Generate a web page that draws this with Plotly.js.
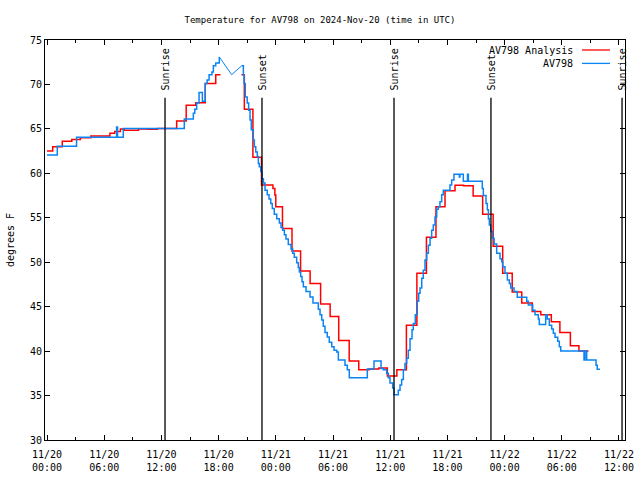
<!DOCTYPE html>
<html>
<head>
<meta charset="utf-8">
<script src="https://cdn.plot.ly/plotly-3.0.1.min.js"></script>
<style>html,body{margin:0;padding:0;background:#fff;}#chart{width:640px;height:480px;}</style>
</head>
<body>
<div id="chart"></div>
<script>
// Hours since 2024-11-20 00:00 UTC
const analysisHours = [0, 0.6, 1.6, 2.6, 3.5, 4.6, 6.6, 7.1, 7.7, 8.1, 9.6, 10.6, 11.6, 13.6, 14.6, 15.6, 16.6, 17.7, 18.2, 18.3,
  20.4, 20.7, 21.6, 22.5, 23.7, 23.9, 24.0, 24.7, 25.7, 26.6, 27.6, 28.7, 29.7, 30.6, 31.7, 32.7, 33.8, 34.8, 35.7, 36.7,
  37.7, 38.8, 39.8, 40.8, 41.75, 42.8, 43.7, 44.7, 45.7, 46.8, 47.8, 48.8, 49.8, 50.9, 51.8, 52.9, 53.8, 54.9, 55.8, 56.8];
const analysisTemps = [62.5, 63.0, 63.6, 63.8, 64.0, 64.2, 64.5, 64.7, 65.0, 64.85, 65.0, 64.95, 65.05, 65.9, 67.65, 67.95, 70.1, 71.1, 71.1, null,
  71.1, 67.2, 61.8, 58.7, 58.3, 57.55, 56.25, 53.8, 51.25, 49.0, 47.6, 45.3, 43.9, 41.2, 38.9, 37.9, 38.0, 38.1, 37.2, 37.9,
  42.9, 48.75, 52.8, 56.25, 58.05, 58.65, 58.6, 57.45, 55.4, 51.8, 48.75, 46.65, 45.4, 44.45, 44.1, 43.3, 42.1, 40.6, 40.0, 40.0];

const obsHours = [0, 1.08, 3.1, 7.3, 7.4, 8.0, 14.4, 15.35, 15.5, 15.7, 15.95, 16.3, 16.6, 16.8, 17.0, 17.3, 17.45, 17.7, 18.07,
  19.37, 20.42,
  20.6, 20.67, 20.8, 21.0, 21.15, 21.3, 21.43, 21.64, 21.75, 21.9, 22.06, 22.17, 22.27, 22.42, 22.55, 22.7, 22.87, 23.1, 23.29,
  23.47, 23.63, 23.84, 24.1, 24.37, 24.55, 24.72, 24.9, 25.07, 25.31, 25.6, 25.77, 25.94, 26.19, 26.36, 26.47, 26.61, 26.75,
  26.89, 27.17, 27.59, 27.9, 28.46, 28.64, 28.82, 28.98, 29.16, 29.4, 29.61, 29.87, 30.11, 30.39, 30.56, 31.26, 31.5, 31.71,
  33.6, 34.3, 35.04, 35.28, 35.63, 35.8, 35.98, 36.26, 36.4, 36.85, 37.03, 37.2, 37.38, 37.55, 37.73, 37.9, 38.08, 38.29,
  38.42, 38.63, 38.84, 38.99, 39.13, 39.31, 39.47, 39.65, 39.83, 40.0, 40.18, 40.35, 40.52, 40.7, 40.88, 41.05, 41.22, 41.4,
  41.57, 42.27, 42.45, 42.69, 43.25, 43.32, 43.67, 44.11, 44.2, 45.66, 45.77, 46.05, 46.19, 46.3, 46.4, 46.55, 46.72, 46.9,
  47.17, 47.52, 47.7, 47.8, 48.04, 48.29, 48.5, 48.64, 48.99, 49.33, 50.32, 50.49, 50.95, 51.19, 51.54, 51.64, 52.31, 52.48,
  52.69, 52.94, 53.11, 53.29, 53.57, 53.74, 53.89, 56.33, 56.44, 56.61, 57.59, 57.72, 58.0];
const obsTemps = [62.05, 63.05, 64.05, 65.2, 64.05, 65.05, 66.1, 66.75, 67.2, 67.9, 69.1, 68.1, 70.1, 70.5, 71.1, 71.4, 72.1, 72.4, 73.1,
  71.1, 72.1,
  71.1, 70.1, 68.6, 67.9, 67.1, 66.0, 64.9, 63.75, 63.0, 62.4, 61.9, 61.1, 60.75, 60.2, 59.4, 58.9, 58.1, 57.6, 57.1,
  56.6, 56.05, 55.4, 54.9, 54.4, 53.9, 53.6, 53.1, 52.6, 52.0, 51.5, 51.0, 50.55, 49.95, 49.4, 48.9, 48.4, 47.8,
  47.25, 46.7, 46.1, 45.4, 44.7, 44.1, 43.5, 42.8, 42.1, 41.6, 41.0, 40.5, 40.1, 39.9, 39.0, 38.4, 37.9, 37.0,
  38.0, 38.9, 38.05, 37.9, 37.5, 37.0, 36.4, 35.85, 35.1, 35.6, 36.2, 36.8, 37.9, 38.6, 39.2, 40.1, 41.4, 42.4,
  43.1, 44.1, 45.6, 46.5, 47.1, 48.2, 49.1, 50.25, 51.0, 51.9, 52.7, 53.6, 54.2, 55.1, 55.95, 56.25, 56.8, 57.6,
  58.1, 58.7, 59.25, 59.9, 59.6, 59.9, 59.1, 59.9, 59.1, 58.3, 57.5, 56.6, 55.9, 54.9, 54.2, 53.45, 52.7, 52.05,
  51.0, 50.4, 50.05, 49.5, 48.75, 48.0, 47.6, 47.1, 46.7, 46.05, 45.6, 45.2, 44.6, 44.1, 43.6, 43.0, 44.1, 43.6,
  42.9, 42.5, 42.0, 41.55, 41.1, 40.5, 40.0, 39.0, 40.0, 39.0, 38.4, 37.95, 37.95];
// data gap in observations (drawn as straight segments)
const obsGapStart = 18.07, obsGapEnd = 20.42;

const sunHours = [12.38, 22.55, 36.4, 46.57, 60.32];
const sunLabels = ['Sunrise', 'Sunset', 'Sunrise', 'Sunset', 'Sunrise'];

const base = Date.UTC(2024, 10, 20);
function pad(n){ return (n < 10 ? '0' : '') + n; }
function toDate(h){
  const d = new Date(base + Math.round(h * 3600000));
  return d.getUTCFullYear() + '-' + pad(d.getUTCMonth()+1) + '-' + pad(d.getUTCDate()) + ' ' +
         pad(d.getUTCHours()) + ':' + pad(d.getUTCMinutes()) + ':' + pad(d.getUTCSeconds());
}

const FONT = 'DejaVu Sans Mono, monospace';
const RED = '#ff0000', BLUE = '#0a84f5';

const iS = obsHours.indexOf(obsGapStart), iE = obsHours.indexOf(obsGapEnd);
function seg(a, b){ return {x: obsHours.slice(a, b).map(toDate), y: obsTemps.slice(a, b)}; }
const s1 = seg(0, iS + 1), s2 = seg(iS, iE + 1), s3 = seg(iE, obsHours.length);

const traces = [
  {x: analysisHours.map(toDate), y: analysisTemps, type: 'scatter', mode: 'lines', line: {color: RED, width: 1.5, shape: 'hv'}, connectgaps: false, hoverinfo: 'skip'},
  {x: s1.x, y: s1.y, type: 'scatter', mode: 'lines', line: {color: BLUE, width: 1.5, shape: 'hv'}, hoverinfo: 'skip'},
  {x: s2.x, y: s2.y, type: 'scatter', mode: 'lines', line: {color: BLUE, width: 1, shape: 'linear'}, hoverinfo: 'skip'},
  {x: s3.x, y: s3.y, type: 'scatter', mode: 'lines', line: {color: BLUE, width: 1.5, shape: 'hv'}, hoverinfo: 'skip'}
];

const shapes = sunHours.map(h => ({type: 'line', xref: 'x', yref: 'y', x0: toDate(h), x1: toDate(h), y0: 30, y1: 68.5, line: {color: '#000', width: 1.3}}));
const annotations = sunHours.map((h, i) => ({x: toDate(h), y: 69.1, xref: 'x', yref: 'y', text: sunLabels[i], textangle: -90, showarrow: false, xanchor: 'center', yanchor: 'bottom', font: {family: FONT, size: 10, color: '#000'}}));

// legend (text left of sample, as in the reference)
const legendNames = ['AV798 Analysis', 'AV798'];
const legendColors = [RED, BLUE];
legendNames.forEach((n, i) => {
  const yp = 0.975 - i * 0.0335;
  annotations.push({x: 0.9138, y: yp, xref: 'paper', yref: 'paper', text: n, showarrow: false, xanchor: 'right', yanchor: 'middle', font: {family: FONT, size: 10, color: '#000'}});
  shapes.push({type: 'line', xref: 'paper', yref: 'paper', x0: 0.9259, x1: 0.9741, y0: yp, y1: yp, line: {color: legendColors[i], width: 1.3}});
});

const layout = {
  width: 640, height: 480,
  margin: {l: 45, r: 15, t: 40, b: 40},
  paper_bgcolor: '#fff', plot_bgcolor: '#fff',
  showlegend: false,
  font: {family: FONT, size: 10, color: '#000'},
  title: {text: 'Temperature for AV798 on 2024-Nov-20 (time in UTC)', x: 0.5, xanchor: 'center', y: 1 - 20/480, yanchor: 'middle', yref: 'container', font: {family: FONT, size: 9, color: '#000'}},
  xaxis: {
    type: 'date', range: [toDate(-0.21), toDate(60.63)],
    tickmode: 'linear', tick0: toDate(0), dtick: 6 * 3600000,
    tickformat: '%m/%d<br>%H:%M',
    ticks: 'inside', ticklen: 5, tickcolor: '#000', tickwidth: 1,
    ticklabelstandoff: 5,
    minor: {dtick: 3 * 3600000, ticks: 'inside', ticklen: 3, tickcolor: '#000', showgrid: false},
    showline: true, linecolor: '#000', linewidth: 1, mirror: 'ticks',
    showgrid: false, zeroline: false,
    tickfont: {family: FONT, size: 10, color: '#000'}
  },
  yaxis: {
    range: [30, 75], tickmode: 'linear', tick0: 30, dtick: 5,
    ticks: 'inside', ticklen: 5, tickcolor: '#000',
    showline: true, linecolor: '#000', linewidth: 1, mirror: 'ticks',
    showgrid: false, zeroline: false,
    tickfont: {family: FONT, size: 10, color: '#000'},
    title: {text: 'degrees F', font: {family: FONT, size: 10, color: '#000'}, standoff: 13}
  },
  shapes: shapes,
  annotations: annotations
};

Plotly.newPlot('chart', traces, layout, {staticPlot: true, displayModeBar: false});
</script>
</body>
</html>
